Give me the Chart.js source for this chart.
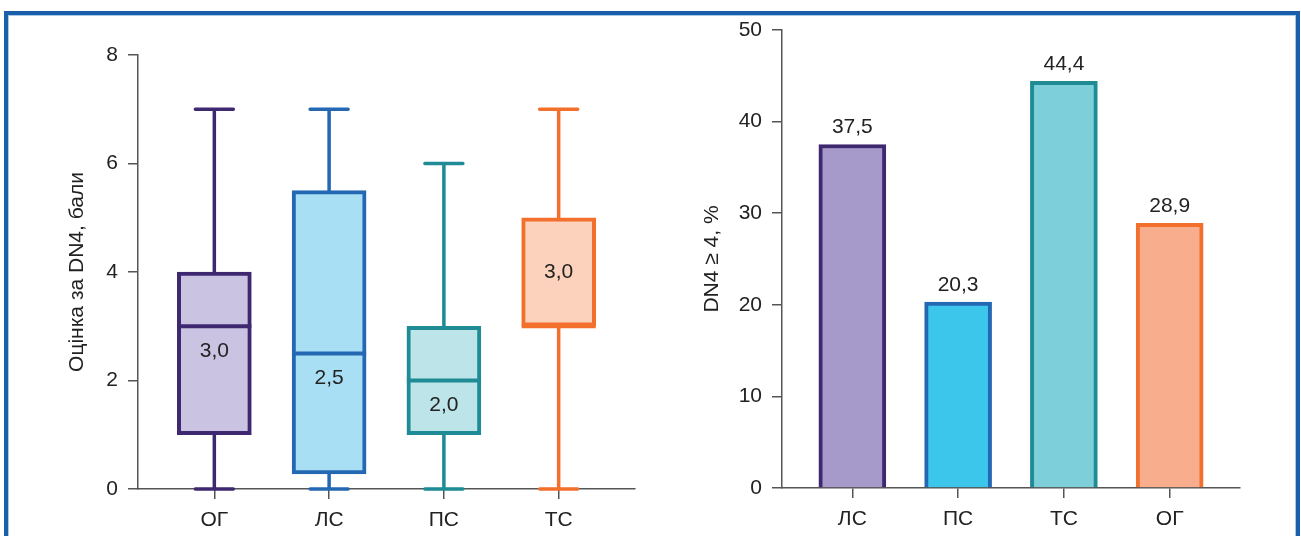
<!DOCTYPE html>
<html>
<head>
<meta charset="utf-8">
<script src="https://cdn.jsdelivr.net/npm/chart.js@4"></script>
<style>
  body { margin: 0; background: #fff; width: 1301px; height: 536px; overflow: hidden; position: relative; }
  #frame {
    position: absolute; left: 4px; top: 11px; width: 1296px; height: 600px; box-sizing: border-box;
    border: 4px solid #1b5faa; border-bottom: none;
    box-shadow: inset 1px 1px 0 #a9c9e8, inset -1px 0 0 #a9c9e8;
  }
  .wrap { position: absolute; top: 0; }
</style>
</head>
<body>
<div id="frame"></div>
<div class="wrap" style="left:0"><canvas id="boxChart" width="660" height="536"></canvas></div>
<div class="wrap" style="left:650px"><canvas id="barChart" width="651" height="536"></canvas></div>
<script>
// Données du graphique de gauche (boîtes à moustaches)
const groups = ['ОГ', 'ЛС', 'ПС', 'ТС'];
const boxMin = [0, 0, 0, 0];
const boxQ1 = [1, 0.28, 1, 3];
const boxMedian = [3, 2.5, 2, 3];
const boxQ3 = [4, 5.5, 3, 5];
const boxMax = [7, 7, 6, 7];
const boxBorder = ['#3e2870', '#2468b4', '#1e8b95', '#f26f2c'];
const boxFill = ['#cac4e2', '#a9dff4', '#bde4e9', '#fdd2bc'];

// Données du graphique de droite
const barCats = ['ЛС', 'ПС', 'ТС', 'ОГ'];
const barValues = [37.5, 20.3, 44.4, 28.9];
const barBorder = ['#3e2870', '#2468b4', '#1e8b95', '#f26f2c'];
const barFill = ['#a59ac9', '#3dc6ec', '#7dcfd9', '#f8ae8c'];

const fmt = v => v.toFixed(1).replace('.', ',');

const fontSize = 21;
const fontCss = fontSize + "px 'Liberation Sans', Arial, sans-serif";

Chart.defaults.font.family = "'Liberation Sans', Arial, sans-serif";
Chart.defaults.font.size = fontSize;
Chart.defaults.color = '#222';

const axisColor = '#555';

function xScale(labels, height) {
  return {
    type: 'linear',
    min: -0.665,
    max: 3.665,
    offset: false,
    afterBuildTicks: s => { s.ticks = labels.map((_, i) => ({ value: i })); },
    afterFit: s => { s.height = height; },
    ticks: { callback: v => labels[v], padding: 9, color: '#222' },
    grid: { offset: false, drawOnChartArea: false, drawTicks: true, tickLength: 10, color: axisColor, lineWidth: 1.5 },
    border: { color: axisColor, width: 1.5 }
  };
}

function yScale(max, step, width, title, titlePad) {
  return {
    min: 0,
    max: max,
    afterFit: s => { s.width = width; },
    ticks: { stepSize: step, padding: 10, color: '#222' },
    grid: { drawOnChartArea: false, drawTicks: true, tickLength: 10, color: axisColor, lineWidth: 1.5 },
    border: { color: axisColor, width: 1.5 },
    title: { display: true, text: title, color: '#222', font: { size: fontSize }, padding: { top: titlePad } }
  };
}

// Moustaches, médianes et étiquettes
const whiskerPlugin = {
  id: 'whiskers',
  beforeDatasetsDraw(chart) {
    const { ctx, scales: { x, y } } = chart;
    ctx.save();
    ctx.lineWidth = 3.5;
    ctx.lineCap = 'round';
    groups.forEach((g, i) => {
      const cx = x.getPixelForValue(i);
      ctx.strokeStyle = boxBorder[i];
      ctx.beginPath();
      ctx.moveTo(cx, y.getPixelForValue(boxMin[i]));
      ctx.lineTo(cx, y.getPixelForValue(boxQ1[i]));
      ctx.moveTo(cx, y.getPixelForValue(boxQ3[i]));
      ctx.lineTo(cx, y.getPixelForValue(boxMax[i]));
      [boxMin[i], boxMax[i]].forEach(v => {
        const py = y.getPixelForValue(v);
        ctx.moveTo(cx - 19, py);
        ctx.lineTo(cx + 19, py);
      });
      ctx.stroke();
    });
    ctx.restore();
  },
  afterDatasetsDraw(chart) {
    const { ctx, scales: { x, y } } = chart;
    const meta = chart.getDatasetMeta(0);
    ctx.save();
    groups.forEach((g, i) => {
      const bar = meta.data[i];
      const half = bar.width / 2;
      const cx = x.getPixelForValue(i);
      const my = y.getPixelForValue(boxMedian[i]);
      ctx.strokeStyle = boxBorder[i];
      ctx.lineWidth = 4;
      ctx.beginPath();
      ctx.moveTo(cx - half, my);
      ctx.lineTo(cx + half, my);
      ctx.stroke();

      let ly = my + 25;
      if (boxMedian[i] <= boxQ1[i]) {
        ly = (y.getPixelForValue(boxQ1[i]) + y.getPixelForValue(boxQ3[i])) / 2;
      }
      ctx.fillStyle = '#222';
      ctx.font = fontCss;
      ctx.textAlign = 'center';
      ctx.textBaseline = 'middle';
      ctx.fillText(fmt(boxMedian[i]), cx, ly);
    });
    ctx.restore();
  }
};

const valuePlugin = {
  id: 'values',
  afterDatasetsDraw(chart) {
    const { ctx } = chart;
    const meta = chart.getDatasetMeta(0);
    ctx.save();
    ctx.fillStyle = '#222';
    ctx.font = fontCss;
    ctx.textAlign = 'center';
    ctx.textBaseline = 'middle';
    meta.data.forEach((bar, i) => {
      ctx.fillText(fmt(barValues[i]), bar.x, bar.y - 17);
    });
    ctx.restore();
  }
};

new Chart(document.getElementById('boxChart'), {
  type: 'bar',
  data: {
    datasets: [{
      data: groups.map((g, i) => ({ x: i, y: [boxQ1[i], boxQ3[i]] })),
      backgroundColor: boxFill,
      borderColor: boxBorder,
      borderWidth: 4,
      borderSkipped: false,
      barThickness: 74
    }]
  },
  options: {
    responsive: false,
    animation: false,
    devicePixelRatio: 1,
    layout: { padding: { top: 55, left: 0, right: 25, bottom: 0 } },
    plugins: { legend: { display: false }, tooltip: { enabled: false } },
    scales: {
      x: xScale(groups, 47),
      y: yScale(8, 2, 138, 'Оцінка за DN4, бали', 65)
    }
  },
  plugins: [whiskerPlugin]
});

new Chart(document.getElementById('barChart'), {
  type: 'bar',
  data: {
    datasets: [{
      data: barCats.map((c, i) => ({ x: i, y: barValues[i] })),
      backgroundColor: barFill,
      borderColor: barBorder,
      borderWidth: 4,
      borderSkipped: 'bottom',
      barThickness: 67
    }]
  },
  options: {
    responsive: false,
    animation: false,
    devicePixelRatio: 1,
    layout: { padding: { top: 30, left: 0, right: 61, bottom: 0 } },
    plugins: { legend: { display: false }, tooltip: { enabled: false } },
    scales: {
      x: xScale(barCats, 48),
      y: yScale(50, 10, 132, 'DN4 ≥ 4, %', 50)
    }
  },
  plugins: [valuePlugin]
});
</script>
</body>
</html>
